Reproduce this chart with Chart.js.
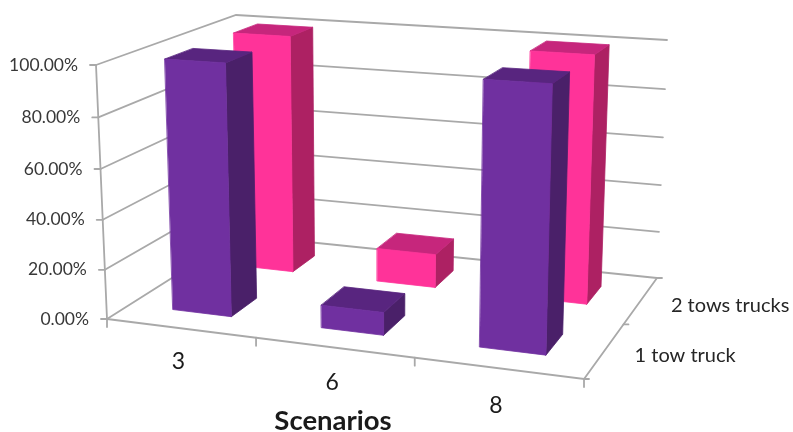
<!DOCTYPE html>
<html>
<head>
<meta charset="utf-8">
<script src="https://cdn.jsdelivr.net/npm/chart.js@4"></script>
<style>
  html, body { margin: 0; background: #fff; }
  canvas { display: block; }
</style>
</head>
<body>
<canvas id="myChart" width="793" height="432"></canvas>
<script>
const scenarios = ['3', '6', '8']
const seriesNames = ['1 tow truck', '2 tows trucks']
const oneTruck = [100, 9, 100]
const twoTrucks = [100, 14, 100]
const axisTitle = 'Scenarios'

const gridColor = '#a9a9a9'
const textColor = '#383838'
const purple = { front: '#7030a0', side: '#4a2069', top: '#58257f' }
const pink = { front: '#ff3399', side: '#ad2163', top: '#c6267c' }

// corners of the 3d box on screen: [across, depth, height]
const box = {
  '000': [107, 319], '100': [584, 379], '010': [240, 235], '110': [657, 278],
  '001': [96, 65], '101': [592, 97], '011': [236, 15], '111': [667, 40]
}

// perspective foreshortening along one box edge
const warp = (t, w) => t / (t + (1 - t) * w)
const mix = (a, b, t) => a + (b - a) * t

function project(across, depth, height) {
  const u = warp(across, 1.1), v = warp(depth, 0.85), h = warp(height, 1.04)
  return [0, 1].map(i => {
    const front = mix(mix(box['000'][i], box['100'][i], u), mix(box['001'][i], box['101'][i], u), h)
    const back = mix(mix(box['010'][i], box['110'][i], u), mix(box['011'][i], box['111'][i], u), h)
    return mix(front, back, v)
  })
}

function line(ctx, pts) {
  ctx.beginPath()
  pts.forEach((p, i) => i ? ctx.lineTo(p[0], p[1]) : ctx.moveTo(p[0], p[1]))
  ctx.stroke()
}

function face(ctx, pts, color) {
  ctx.beginPath()
  pts.forEach((p, i) => i ? ctx.lineTo(p[0], p[1]) : ctx.moveTo(p[0], p[1]))
  ctx.closePath()
  ctx.fillStyle = color
  ctx.fill()
  // thin outline closes the seam between neighbouring faces
  ctx.save()
  ctx.strokeStyle = color
  ctx.lineWidth = 0.8
  ctx.lineJoin = 'round'
  ctx.stroke()
  ctx.restore()
}

const box3d = {
  id: 'box3d',
  beforeDatasetsDraw(chart) {
    const ctx = chart.ctx
    const { x, y, depth } = chart.scales
    const toAcross = px => (px - x.left) / x.width
    const toDepth = px => (px - depth.left) / depth.width
    const toHeight = px => (y.bottom - px) / y.height

    ctx.save()
    ctx.lineCap = 'round'
    ctx.strokeStyle = gridColor
    ctx.lineWidth = 1.8

    // walls
    y.ticks.forEach((tick, i) => {
      const h = toHeight(y.getPixelForTick(i))
      line(ctx, [project(0, 0, h), project(0, 1, h), project(1, 1, h)])
      const p = project(0, 0, h)
      line(ctx, [p, [p[0] - 6, p[1]]])
    })
    line(ctx, [project(0, 0, 0), project(0, 0, 1)])

    // floor edges and their tick marks
    line(ctx, [project(0, 0, 0), project(1, 0, 0), project(1, 1, 0)])
    for (let i = 0; i <= scenarios.length; i++) {
      const p = project(i / scenarios.length, 0, 0)
      line(ctx, [p, [p[0], p[1] + 8]])
    }
    for (let i = 0; i <= seriesNames.length; i++) {
      const p = project(1, i / seriesNames.length, 0)
      line(ctx, [p, [p[0] + 5, p[1]]])
    }

    // back row first so the front row covers it
    const colors = [purple, pink]
    for (let d = chart.data.datasets.length - 1; d >= 0; d--) {
      const ds = chart.data.datasets[d]
      const mid = toDepth(depth.getPixelForValue(ds.label))
      const half = 0.195 / 2
      const z0 = mid - half, z1 = mid + half
      chart.getDatasetMeta(d).data.forEach(bar => {
        const a0 = toAcross(bar.x - bar.width / 2), a1 = toAcross(bar.x + bar.width / 2)
        const h = toHeight(bar.y)
        const c = colors[d]
        face(ctx, [project(a1, z0, 0), project(a1, z1, 0), project(a1, z1, h), project(a1, z0, h)], c.side)
        face(ctx, [project(a0, z0, h), project(a1, z0, h), project(a1, z1, h), project(a0, z1, h)], c.top)
        face(ctx, [project(a0, z0, 0), project(a1, z0, 0), project(a1, z0, h), project(a0, z0, h)], c.front)
      })
    }

    // value axis labels
    ctx.fillStyle = textColor
    ctx.textBaseline = 'middle'
    ctx.textAlign = 'right'
    ctx.font = '17.5px Lato'
    y.ticks.forEach((tick, i) => {
      const p = project(0, 0, toHeight(y.getPixelForTick(i)))
      ctx.fillText(tick.label, p[0] - 18, p[1])
    })

    // category labels under the front edge
    ctx.textAlign = 'center'
    ctx.font = '23px Lato'
    ctx.fillStyle = '#1a1a1a'
    scenarios.forEach((name, i) => {
      const a = toAcross(x.getPixelForTick(i))
      const p = project(a, 0, 0)
      ctx.fillText(name, p[0] - 2, p[1] + 32 + 7 * a)
    })

    // series labels beside the right edge
    ctx.textAlign = 'left'
    ctx.font = '20px Lato'
    ctx.fillStyle = '#262626'
    seriesNames.forEach(name => {
      const p = project(1, toDepth(depth.getPixelForValue(name)), 0)
      ctx.fillText(name, p[0] + 30, p[1] + 5)
    })

    ctx.textAlign = 'center'
    ctx.font = 'bold 27.5px Lato'
    ctx.fillStyle = '#1a1a1a'
    ctx.fillText(axisTitle, 333, 421)

    ctx.restore()
    return false
  }
}

new Chart(document.getElementById('myChart'), {
  type: 'bar',
  data: {
    labels: scenarios,
    datasets: [
      { label: seriesNames[0], data: oneTruck, backgroundColor: purple.front, grouped: false },
      { label: seriesNames[1], data: twoTrucks, backgroundColor: pink.front, grouped: false }
    ]
  },
  options: {
    responsive: false,
    animation: false,
    barPercentage: 0.4,
    categoryPercentage: 1,
    layout: { padding: 0 },
    plugins: { legend: { display: false }, tooltip: { enabled: false } },
    scales: {
      x: { display: false, offset: true },
      y: {
        display: false,
        min: 0,
        max: 100,
        ticks: { stepSize: 20, callback: v => v.toFixed(2) + '%' }
      },
      depth: { type: 'category', axis: 'x', position: 'bottom', display: false, offset: true, labels: seriesNames }
    }
  },
  plugins: [box3d]
})
</script>
</body>
</html>
